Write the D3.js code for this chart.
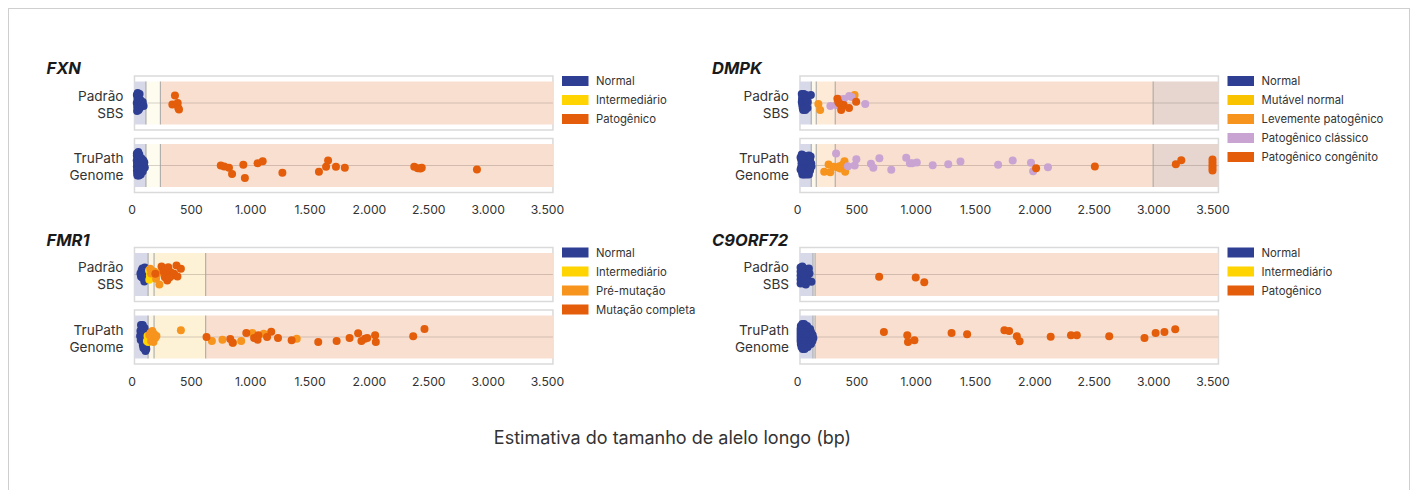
<!DOCTYPE html>
<html><head><meta charset="utf-8">
<script src="https://cdn.jsdelivr.net/npm/d3@7"></script>
<style>body{margin:0;background:#fff;}svg{font-family:Inter,"Noto Sans",sans-serif;display:block;}</style>
</head><body><svg id="c" width="1418" height="490"></svg>
<script>
// ---------- data ----------
const tickValues = [0,500,1000,1500,2000,2500,3000,3500];
const rowLabels = [["Padrão","SBS"],["TruPath","Genome"]];
const xTitle = "Estimativa do tamanho de alelo longo (bp)";
const stripExtent = [25, 3550];

const fxnLegend = ["Normal","Intermediário","Patogênico"];
const dmpkLegend = ["Normal","Mutável normal","Levemente patogênico","Patogênico clássico","Patogênico congênito"];
const fmr1Legend = ["Normal","Intermediário","Pré-mutação","Mutação completa"];
const c9Legend = ["Normal","Intermediário","Patogênico"];

// region thresholds (bp)
const fxnThresholds = [122, 243];
const dmpkThresholds = [120, 162, 322, 3000];
const fmr1Thresholds = [140, 190, 625];
const c9Thresholds = [135, 152];

// points: [value bp, vertical jitter, class index]
const fxnSbs = [
 [45,-8,0],[50,-4,0],[44,0,0],[48,4,0],[47,8,0],[58,-6,0],[62,-1,0],[56,3,0],[60,7,0],[75,-3,0],[82,1,0],[95,-1,0],[102,3,0],[68,-9,0],[52,-10,0],[70,5,0],
 [366,-7.5,2],[344,1.5,2],[389,0,2],[394,5,2],[400,6.5,2]
];
const fxnTru = [
 [57,-13.5,0],[45,-10,0],[52,-8,0],[62,-8,0],[44,-5,0],[55,-5,0],[68,-6,0],[80,-4,0],[47,-2,0],[58,-1,0],[72,-2,0],[90,-1,0],[104,0,0],[112,2,0],[45,1,0],[54,2,0],[66,1,0],[84,2,0],[98,3,0],[46,5,0],[57,5,0],[70,4,0],[88,5,0],[48,8,0],[60,8,0],[74,7,0],[95,6,0],[50,10,0],[63,10,0],[45,-12,0],[108,-3,0],[78,9,0],[100,-5,0],[85,-7,0],[66,-11,0],
 [752,0,2],[781,1,2],[821,2.3,2],[847,8.5,2],[942,-0.7,2],[955,12.5,2],[1062,-2.3,2],[1105,-4.3,2],[1271,7.3,2],[1579,6.3,2],[1639,1.3,2],[1656,-5,2],[1722,1.3,2],[1797,2.3,2],[2382,1.3,2],[2411,2.7,2],[2434,3,2],[2445,2.3,2],[2910,4,2]
];
const dmpkSbs = [
 [40,-9,0],[45,-7,0],[42,-4,0],[40,-1,0],[44,2,0],[48,5,0],[52,7,0],[58,-9,0],[62,-6,0],[55,-2,0],[60,1,0],[65,4,0],[70,7,0],[75,-8,0],[80,-3,0],[78,2,0],[90,-1,0],[88,5,0],[117,-8,0],
 [180,1,2],[195,7,2],[485,-8,2],
 [281,3,3],[330,2,3],[357,-4,3],[395,-4,3],[440,-7,3],[460,-6,3],[575,1,3],
 [340,-4.3,4],[357,0.5,4],[393,2,4],[372,7,4],[438,5,4],[498,-1.3,4],[348,-1,4]
];
const dmpkTru = [
 [40,-11,0],[55,-10,0],[75,-9,0],[100,-10,0],[35,-6,0],[50,-5,0],[65,-6,0],[85,-5,0],[110,-6,0],[38,-2,0],[52,-1,0],[68,-2,0],[90,-1,0],[120,-2,0],[35,2,0],[48,3,0],[62,2,0],[80,3,0],[100,2,0],[122,1,0],[40,6,0],[55,6,0],[70,5,0],[90,7,0],[110,5,0],[45,9,0],[60,9,0],[78,9,0],[100,9,0],[115,-9,0],[30,-8,0],[30,4,0],
 [229,6.3,2],[266,-1,2],[280,6.7,2],[309,1.3,2],[345,2,2],[357,0.7,2],[366,3,2],[386,-1,2],[400,-4.3,2],[406,6.3,2],
 [329,-12,3],[429,0.7,3],[486,0,3],[500,-6.3,3],[623,-1.7,3],[643,2.3,3],[694,-7.3,3],[794,4.3,3],[920,-7.7,3],[951,-2.3,3],[971,-2.3,3],[1009,-3,3],[1143,-0.3,3],[1274,-1.3,3],[1377,-4,3],[1694,-0.7,3],[1817,-5,3],[1971,-2.7,3],[1989,5.7,3],[2114,1.7,3],
 [2014,2.7,4],[2509,1,4],[3191,-1.3,4],[3237,-5.3,4],[3500,-6,4],[3500,-3,4],[3500,0,4],[3500,2.5,4],[3500,5,4]
];
const fmr1Sbs = [
 [75,-1,0],[80,2,0],[85,-4,0],[92,-6,0],[98,0,0],[104,4,0],[108,7,0],[115,-3,0],[122,1,0],[128,5,0],[112,-7,0],[90,3,0],
 [148,-4,1],[150,5.3,1],[155,1,1],
 [158,-5.7,2],[178,-2.3,2],[224,-1.3,2],[207,4.3,2],[235,10,2],[165,-1,2],[190,-3,2],
 [201,-0.7,3],[253,-8,3],[270,-3,3],[287,-5.7,3],[292,-0.5,3],[310,-7.3,3],[301,6,3],[281,2.7,3],[330,-2.3,3],[345,1,3],[359,-0.7,3],[379,-9,3],[387,2,3],[416,-5.7,3],[320,3,3]
];
const fmr1Tru = [
 [80,-12,0],[88,-11,0],[95,-12,0],[75,-6,0],[85,-5,0],[100,-7,0],[110,-9,0],[72,-1,0],[82,0,0],[95,-2,0],[108,-3,0],[120,-5,0],[78,3,0],[90,4,0],[105,2,0],[118,1,0],[95,8,0],[108,7,0],[120,9,0],[112,12,0],[118,14,0],[125,12,0],[130,6,0],[100,11,0],[85,-8,0],
 [130,4,1],[140,5,1],[145,2,1],[135,-1,1],
 [150,-2,2],[160,-4,2],[170,0,2],[180,2,2],[190,-3,2],[200,1,2],[165,4,2],[185,5,2],[210,-1,2],[175,-6,2],[416,-6.7,2],[677,4,2],[766,2.7,2],[855,5.7,2],[924,4,2],[1019,-4,2],[1114,-3.3,2],[1392,1.7,2],
 [632,0,3],[832,2,3],[852,5.7,3],[967,-4,3],[1033,1,3],[1056,1.7,3],[1068,-1.7,3],[1062,2.7,3],[1142,0,3],[1177,-5.3,3],[1234,1,3],[1349,3.3,3],[1573,5,3],[1728,4,3],[1837,1,3],[1909,-3.7,3],[1937,4,3],[1966,1.7,3],[1986,1,3],[2052,-1.7,3],[2058,5,3],[2373,-0.7,3],[2468,-8,3]
];
const c9Sbs = [
 [30,-7,0],[45,-8,0],[60,-6,0],[80,-5,0],[95,-2,0],[30,-3,0],[50,-3,0],[70,-2,0],[105,-1,0],[30,1,0],[45,1,0],[62,2,0],[82,1,0],[30,5,0],[48,5,0],[66,4,0],[88,4,0],[30,9,0],[45,8,0],[60,9,0],[75,10,0],[100,-6,0],[70,6,0],[55,-1,0],[38,-5,0],[122,7.3,0],
 [692,2.3,2],[1000,3,2],[1072,7.7,2]
];
const c9Tru = [
 [45,-13,0],[60,-13,0],
 [32,-11,0],[50,-11,0],[68,-11,0],[85,-11,0],
 [30,-8,0],[45,-8,0],[62,-8,0],[80,-8,0],[98,-8,0],[110,-8,0],
 [30,-5,0],[48,-5,0],[65,-5,0],[82,-5,0],[100,-5,0],[118,-5,0],
 [30,-2,0],[46,-2,0],[63,-2,0],[80,-2,0],[98,-2,0],[115,-2,0],[132,-2,0],
 [30,1,0],[47,1,0],[64,1,0],[82,1,0],[100,1,0],[118,1,0],[138,1,0],
 [30,4,0],[48,4,0],[66,4,0],[84,4,0],[102,4,0],[120,4,0],[130,4,0],
 [32,7,0],[50,7,0],[68,7,0],[86,7,0],[105,7,0],[118,7,0],
 [38,10,0],[55,10,0],[72,10,0],[90,10,0],
 [48,12,0],[65,12,0],
 [732,-5,2],[929,-1.7,2],[935,5,2],[989,3.3,2],[1302,-4,2],[1433,-2.7,2],[1747,-6.7,2],[1787,-6,2],[1852,-0.7,2],[1875,4.3,2],[2137,-0.3,2],[2308,-1.7,2],[2357,-1.7,2],[2630,-0.7,2],[2927,1,2],[3021,-4,2],[3095,-5,2],[3186,-7.7,2]
];

// ---------- styles ----------
const C_NAVY="#2e3f93", C_YEL="#ffd400", C_DORG="#e35d0a", C_ORG="#f7941d", C_PUR="#c9a3d1", C_MUT="#f9c300";
const BAND_NORMAL="#d7d9e9", BAND_PATH="#f8dfcf";
const panels = [
 {title:"FXN", col:0, row:0, legend:fxnLegend, colors:[C_NAVY,C_YEL,C_DORG], th:fxnThresholds,
  bandColors:[BAND_NORMAL,"#fefcef",BAND_PATH], data:[fxnSbs,fxnTru]},
 {title:"DMPK", col:1, row:0, legend:dmpkLegend, colors:[C_NAVY,C_MUT,C_ORG,C_PUR,C_DORG], th:dmpkThresholds,
  bandColors:[BAND_NORMAL,"#fdf8ec","#fdebd8",BAND_PATH,"#e6d6cf"], data:[dmpkSbs,dmpkTru]},
 {title:"FMR1", col:0, row:1, legend:fmr1Legend, colors:[C_NAVY,C_YEL,C_ORG,C_DORG], th:fmr1Thresholds,
  bandColors:[BAND_NORMAL,"#fcf6e6","#fdf2d6",BAND_PATH], data:[fmr1Sbs,fmr1Tru]},
 {title:"C9ORF72", col:1, row:1, legend:c9Legend, colors:[C_NAVY,C_YEL,C_DORG], th:c9Thresholds,
  bandColors:[BAND_NORMAL,"#f7f2ec",BAND_PATH], data:[c9Sbs,c9Tru]}
];
const colX0 = [131.5, 797], plotW = 415.5;
const rowTop = [76, 247.5];
const boxH = 54, boxGap = 8.5, bandInset = 5.5;

const locale = d3.formatLocale({decimal:",", thousands:".", grouping:[3], currency:["R$",""]});
const fmt = locale.format(",d");

const svg = d3.select("#c");
svg.append("rect").attr("x",8.5).attr("y",8.5).attr("width",1401).attr("height",500)
  .attr("fill","none").attr("stroke","#cfcfcf");

panels.forEach(p => {
  const x = d3.scaleLinear().domain([0,3500]).range([colX0[p.col], colX0[p.col]+plotW]);
  const top = rowTop[p.row];
  const g = svg.append("g");
  g.append("text").attr("x", x(0)-85).attr("y", top-2).text(p.title)
    .attr("font-size",16.5).attr("font-weight",700).attr("font-style","italic").attr("fill","#1a1a1a");

  const edges = [stripExtent[0], ...p.th, stripExtent[1]];
  [0,1].forEach(r => {
    const bt = top + r*(boxH+boxGap);
    const b0 = bt + bandInset, b1 = bt + boxH - bandInset, mid = (b0+b1)/2;
    const y = d3.scaleLinear().domain([-21.5,21.5]).range([b0,b1]);
    g.append("rect").attr("x", x(stripExtent[0])).attr("y", bt)
      .attr("width", x(stripExtent[1])-x(stripExtent[0])).attr("height", boxH)
      .attr("fill","#fff").attr("stroke","#dadada").attr("stroke-width",1.5);
    g.selectAll(null).data(d3.pairs(edges)).join("rect")
      .attr("x", d=>x(d[0])).attr("y", b0).attr("width", d=>x(d[1])-x(d[0])).attr("height", b1-b0)
      .attr("fill", (d,i)=>p.bandColors[i]);
    g.append("line").attr("x1", x(stripExtent[0])).attr("x2", x(stripExtent[1])).attr("y1", mid).attr("y2", mid)
      .attr("stroke","#7a6a62").attr("stroke-opacity",0.3).attr("stroke-width",1);
    g.selectAll(null).data(p.th).join("line")
      .attr("x1", d=>x(d)).attr("x2", d=>x(d)).attr("y1", b0).attr("y2", b1)
      .attr("stroke","#a3a3a3").attr("stroke-width",1);
    g.selectAll(null).data(p.data[r]).join("circle")
      .attr("cx", d=>x(d[0])).attr("cy", d=>y(d[1])).attr("r",4)
      .attr("fill", d=>p.colors[d[2]]);
    const lab = g.append("text").attr("text-anchor","end").attr("font-size",13.6).attr("fill","#333");
    lab.append("tspan").attr("x", x(0)-8).attr("y", mid-7.5).attr("dominant-baseline","central").text(rowLabels[r][0]);
    lab.append("tspan").attr("x", x(0)-8).attr("y", mid+9.5).attr("dominant-baseline","central").text(rowLabels[r][1]);
  });

  const ax = g.append("g").attr("transform", `translate(0,${top+134})`)
    .call(d3.axisBottom(x).tickValues(tickValues).tickSize(0).tickPadding(0).tickFormat(fmt));
  ax.select(".domain").remove();
  ax.selectAll("text").attr("y",0).attr("dy","0.35em").attr("font-size",12.2)
    .attr("font-family","Inter, 'Noto Sans', sans-serif").attr("fill","#333");

  const lx = x(3500)+15;
  const lg = g.selectAll(null).data(p.legend).join("g")
    .attr("transform",(d,i)=>`translate(${lx},${top+i*19})`);
  lg.append("rect").attr("width",26.5).attr("height",10).attr("fill",(d,i)=>p.colors[i]);
  lg.append("text").attr("x",34).attr("y",5).attr("dominant-baseline","central")
    .attr("font-size",11.3).attr("fill","#333").text(d=>d);
});

svg.append("text").attr("x",672.5).attr("y",437).attr("text-anchor","middle").attr("dominant-baseline","central")
  .attr("font-size",18).attr("fill","#333").text(xTitle);
</script></body></html>
